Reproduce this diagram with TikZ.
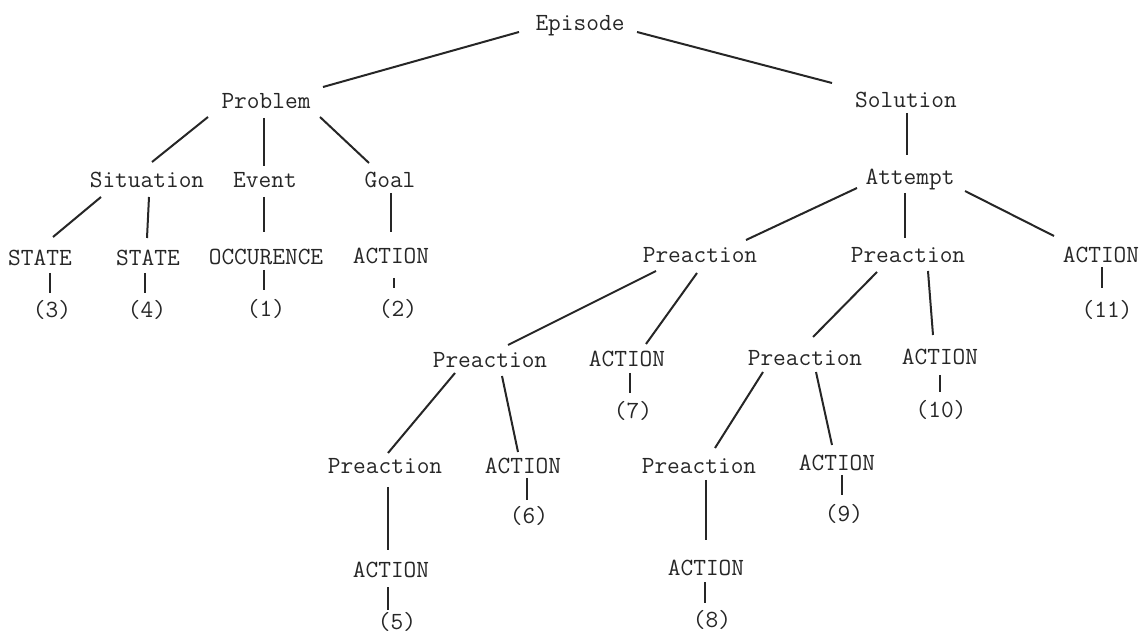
\documentclass[tikz,border=0pt]{standalone}
\usepackage{fontspec}
\begin{document}
\begin{tikzpicture}[x=0.75pt, y=-0.75pt,
  lbl/.style={font=\ttfamily\fontsize{18.5}{20}\selectfont, text=black!85,
    inner sep=0pt, text height=13pt, text depth=2pt},
  edge/.style={line width=1.5pt, black!85},
  tick/.style={line width=1.2pt, black!85}]
  \useasboundingbox (0,0) rectangle (1143,634);

  % top of the tree
  \node[lbl] (ep)   at (580,23)  {Episode};
  \node[lbl] (prob) at (266,101) {Problem};
  \node[lbl] (sol)  at (906,100) {Solution};

  % problem side
  \node[lbl] (sit)  at (147,180) {Situation};
  \node[lbl] (evt)  at (265,180) {Event};
  \node[lbl] (goal) at (390,180) {Goal};
  \node[lbl] (st1)  at (40,258)  {STATE};
  \node[lbl] (st2)  at (148,258) {STATE};
  \node[lbl] (occ)  at (266,257) {OCCURENCE};
  \node[lbl] (a2)   at (391,256) {ACTION};
  \node[lbl] (n3)   at (52,310)  {(3)};
  \node[lbl] (n4)   at (147,310) {(4)};
  \node[lbl] (n1)   at (266,309) {(1)};
  \node[lbl] (n2)   at (398,309) {(2)};

  % solution side
  \node[lbl] (att)  at (910,177)  {Attempt};
  \node[lbl] (pl)   at (700,255)  {Preaction};
  \node[lbl] (pm)   at (908,255)  {Preaction};
  \node[lbl] (a11)  at (1101,255) {ACTION};
  \node[lbl] (n11)  at (1107,310) {(11)};
  \node[lbl] (p3a)  at (490,360)  {Preaction};
  \node[lbl] (a7)   at (627,359)  {ACTION};
  \node[lbl] (p3b)  at (805,358)  {Preaction};
  \node[lbl] (a10)  at (940,357)  {ACTION};
  \node[lbl] (n7)   at (633,411)  {(7)};
  \node[lbl] (n10)  at (941,410)  {(10)};
  \node[lbl] (p4a)  at (385,466)  {Preaction};
  \node[lbl] (a6)   at (523,466)  {ACTION};
  \node[lbl] (p4b)  at (699,466)  {Preaction};
  \node[lbl] (a9)   at (837,463)  {ACTION};
  \node[lbl] (n6)   at (529,516)  {(6)};
  \node[lbl] (n9)   at (844,514)  {(9)};
  \node[lbl] (a5)   at (391,570)  {ACTION};
  \node[lbl] (a8)   at (706,568)  {ACTION};
  \node[lbl] (n5)   at (397,622)  {(5)};
  \node[lbl] (n8)   at (712,620)  {(8)};

  % branches
  \draw[edge] ([shift={(-61,9)}]ep.center)  -- ([shift={(57,-14)}]prob.center);
  \draw[edge] ([shift={(57,9)}]ep.center)   -- ([shift={(-74,-17)}]sol.center);
  \draw[edge] ([shift={(-58,16)}]prob.center) -- ([shift={(5,-18)}]sit.center);
  \draw[edge] ([shift={(-2,17)}]prob.center)  -- ([shift={(-1,-14)}]evt.center);
  \draw[edge] ([shift={(54,16)}]prob.center)  -- ([shift={(-21,-17)}]goal.center);
  \draw[edge] ([shift={(-46,17)}]sit.center)  -- ([shift={(13,-21)}]st1.center);
  \draw[edge] ([shift={(2,17)}]sit.center)    -- ([shift={(-1,-20)}]st2.center);
  \draw[edge] ([shift={(-1,17)}]evt.center)   -- ([shift={(-2,-25)}]occ.center);
  \draw[edge] ([shift={(1,13)}]goal.center)   -- ([shift={(0,-24)}]a2.center);
  \draw[edge] ([shift={(1,13)}]sol.center)    -- ([shift={(-3,-22)}]att.center);
  \draw[edge] ([shift={(-53,11)}]att.center)  -- ([shift={(46,-15)}]pl.center);
  \draw[edge] ([shift={(-5,16)}]att.center)   -- ([shift={(-3,-17)}]pm.center);
  \draw[edge] ([shift={(55,14)}]att.center)   -- ([shift={(-47,-19)}]a11.center);
  \draw[edge] ([shift={(-44,16)}]pl.center)   -- ([shift={(18,-15)}]p3a.center);
  \draw[edge] ([shift={(-3,18)}]pl.center)    -- ([shift={(19,-15)}]a7.center);
  \draw[edge] ([shift={(-31,17)}]pm.center)   -- ([shift={(8,-21)}]p3b.center);
  \draw[edge] ([shift={(20,16)}]pm.center)    -- ([shift={(-7,-22)}]a10.center);
  \draw[edge] ([shift={(-35,13)}]p3a.center)  -- ([shift={(3,-13)}]p4a.center);
  \draw[edge] ([shift={(12,16)}]p3a.center)   -- ([shift={(-5,-14)}]a6.center);
  \draw[edge] ([shift={(-42,14)}]p3b.center)  -- ([shift={(16,-18)}]p4b.center);
  \draw[edge] ([shift={(11,14)}]p3b.center)   -- ([shift={(-5,-18)}]a9.center);
  \draw[edge] ([shift={(3,21)}]p4a.center)    -- ([shift={(-3,-20)}]a5.center);
  \draw[edge] ([shift={(7,14)}]p4b.center)    -- ([shift={(0,-28)}]a8.center);

  % short strokes down to the numbers
  \draw[tick] ([shift={(10,15)}]st1.center) -- ([shift={(-2,-17)}]n3.center);
  \draw[tick] ([shift={(-3,15)}]st2.center) -- ([shift={(-2,-17)}]n4.center);
  \draw[tick] ([shift={(-2,13)}]occ.center) -- ([shift={(-2,-19)}]n1.center);
  \draw[tick] ([shift={(3,22)}]a2.center)   -- ([shift={(-4,-21)}]n2.center);
  \draw[tick] ([shift={(1,12)}]a11.center)  -- ([shift={(-5,-22)}]n11.center);
  \draw[tick] ([shift={(3,14)}]a7.center)   -- ([shift={(-3,-18)}]n7.center);
  \draw[tick] ([shift={(0,18)}]a10.center)  -- ([shift={(-1,-18)}]n10.center);
  \draw[tick] ([shift={(4,12)}]a6.center)   -- ([shift={(-2,-16)}]n6.center);
  \draw[tick] ([shift={(5,12)}]a9.center)   -- ([shift={(-2,-19)}]n9.center);
  \draw[tick] ([shift={(-3,17)}]a5.center)  -- ([shift={(-9,-12)}]n5.center);
  \draw[tick] ([shift={(-1,14)}]a8.center)  -- ([shift={(-7,-17)}]n8.center);
\end{tikzpicture}
\end{document}
